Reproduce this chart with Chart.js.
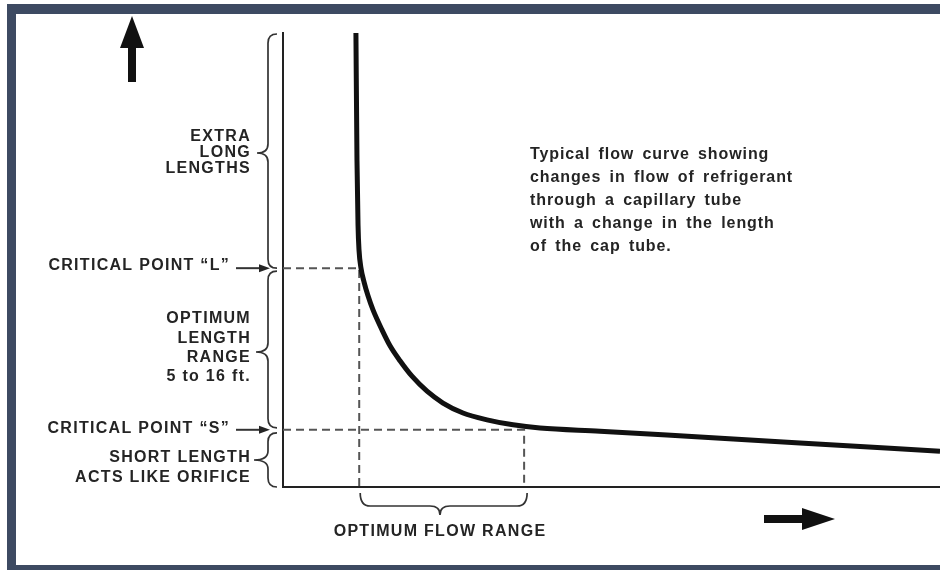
<!DOCTYPE html>
<html>
<head>
<meta charset="utf-8">
<title>Capillary tube flow curve</title>
<script src="https://cdn.jsdelivr.net/npm/chart.js@4.4.1/dist/chart.umd.min.js"></script>
<style>
  html, body { margin: 0; padding: 0; background: #fff; }
  canvas { display: block; }
</style>
</head>
<body>
<canvas id="flowChart" width="940" height="570"></canvas>
<script>
// flow (x) vs tube length (y), arbitrary 0-100 units
const flowValues = [11.1, 11.26, 11.42, 11.57, 11.87, 12.33, 12.94, 13.7, 15.07, 16.29, 17.81, 19.63, 21.92, 24.35, 27.4, 31.05, 35.01, 39.12, 48.25, 63.47, 78.69, 100];
const lengthValues = [100, 72.0, 57.7, 52.2, 48.2, 45.2, 42.1, 39.0, 34.6, 31.1, 27.8, 24.4, 21.1, 18.5, 16.3, 14.8, 13.7, 13.0, 12.3, 11.0, 9.7, 7.9];

// critical points: [flow, length]
const criticalL = [11.6, 48.2];
const criticalS = [36.7, 12.6];

const leftLabels = {
  extra: ['EXTRA', 'LONG', 'LENGTHS'],
  optimum: ['OPTIMUM', 'LENGTH', 'RANGE', '5 to 16 ft.'],
  short: ['SHORT LENGTH', 'ACTS LIKE ORIFICE']
};
const pointLabels = ['CRITICAL POINT \u201CL\u201D', 'CRITICAL POINT \u201CS\u201D'];
const noteLines = [
  'Typical flow curve showing',
  'changes in flow of refrigerant',
  'through a capillary tube',
  'with a change in the length',
  'of the cap tube.'
];
const bottomLabel = 'OPTIMUM FLOW RANGE';

const curvePoints = flowValues.map((v, i) => ({ x: v, y: lengthValues[i] }));
const dropLine = (p) => [{ x: 0, y: p[1] }, { x: p[0], y: p[1] }, { x: p[0], y: 0 }];

const textColor = '#242424';
const labelFont = 'bold 16px "Liberation Sans", Arial, sans-serif';

function brace(ctx, x, y1, y2, ym, tipX, hookX) {
  const r = 9;
  ctx.beginPath();
  ctx.moveTo(hookX, y1);
  ctx.quadraticCurveTo(x, y1, x, y1 + r);
  ctx.lineTo(x, ym - r);
  ctx.quadraticCurveTo(x, ym, tipX, ym);
  ctx.quadraticCurveTo(x, ym, x, ym + r);
  ctx.lineTo(x, y2 - r);
  ctx.quadraticCurveTo(x, y2, hookX, y2);
  ctx.stroke();
}

function hBrace(ctx, y, x1, x2, xm, tipY, hookY) {
  const r = 10;
  ctx.beginPath();
  ctx.moveTo(x1, hookY);
  ctx.quadraticCurveTo(x1, y, x1 + r, y);
  ctx.lineTo(xm - r, y);
  ctx.quadraticCurveTo(xm, y, xm, tipY);
  ctx.quadraticCurveTo(xm, y, xm + r, y);
  ctx.lineTo(x2 - r, y);
  ctx.quadraticCurveTo(x2, y, x2, hookY);
  ctx.stroke();
}

function smallArrow(ctx, x1, x2, y) {
  ctx.beginPath();
  ctx.moveTo(x1, y);
  ctx.lineTo(x2 - 8, y);
  ctx.stroke();
  ctx.beginPath();
  ctx.moveTo(x2, y);
  ctx.lineTo(x2 - 11, y - 4);
  ctx.lineTo(x2 - 11, y + 4);
  ctx.closePath();
  ctx.fill();
}

const framePlugin = {
  id: 'frame',
  beforeDraw(chart) {
    const ctx = chart.ctx;
    ctx.save();
    ctx.fillStyle = '#fff';
    ctx.fillRect(0, 0, chart.width, chart.height);
    ctx.fillStyle = '#3d4a62';
    ctx.fillRect(7, 4, chart.width - 7, 10);
    ctx.fillRect(7, 4, 9, chart.height - 4);
    ctx.fillRect(7, 565, chart.width - 7, 5);
    ctx.restore();
  },
  afterDraw(chart) {
    const ctx = chart.ctx;
    const xs = chart.scales.x, ys = chart.scales.y;
    const top = chart.chartArea.top, bottom = chart.chartArea.bottom;
    const yL = ys.getPixelForValue(criticalL[1]);
    const yS = ys.getPixelForValue(criticalS[1]);
    const xL = xs.getPixelForValue(criticalL[0]);
    const xS = xs.getPixelForValue(criticalS[0]);

    ctx.save();
    ctx.strokeStyle = '#333';
    ctx.fillStyle = textColor;
    ctx.lineWidth = 1.7;

    // braces along the length axis
    brace(ctx, 268, top + 1, yL, 153, 257, 277);
    brace(ctx, 268, yL + 3, yS - 2, 352, 256, 277);
    brace(ctx, 268, yS + 3, bottom, 460, 254, 277);

    // brace under the flow axis
    hBrace(ctx, 506, xL + 1, xS + 3, 440, 515, 493);

    // arrows from critical point labels
    ctx.lineWidth = 2;
    smallArrow(ctx, 236, 270, yL);
    smallArrow(ctx, 236, 270, yS);

    // big axis arrows
    ctx.fillStyle = '#111';
    ctx.fillRect(128, 44, 8, 38);
    ctx.beginPath();
    ctx.moveTo(132, 16); ctx.lineTo(144, 48); ctx.lineTo(120, 48); ctx.closePath();
    ctx.fill();
    ctx.fillRect(764, 515, 40, 8);
    ctx.beginPath();
    ctx.moveTo(835, 519); ctx.lineTo(802, 508); ctx.lineTo(802, 530); ctx.closePath();
    ctx.fill();

    // labels
    ctx.fillStyle = textColor;
    ctx.textBaseline = 'middle';
    ctx.textAlign = 'right';
    ctx.font = labelFont;
    ctx.letterSpacing = '1.3px';
    leftLabels.extra.forEach((t, i) => ctx.fillText(t, 251, 137 + i * 15.6));
    leftLabels.optimum.forEach((t, i) => ctx.fillText(t, 251, 319 + i * 19.3));
    leftLabels.short.forEach((t, i) => ctx.fillText(t, 251, 458 + i * 20));
    ctx.fillText(pointLabels[0], 230, yL - 3);
    ctx.fillText(pointLabels[1], 230, yS - 1);

    ctx.textAlign = 'center';
    ctx.fillText(bottomLabel, 440, 532);

    ctx.textAlign = 'left';
    ctx.letterSpacing = '0.9px';
    ctx.wordSpacing = '3px';
    noteLines.forEach((t, i) => ctx.fillText(t, 530, 155 + i * 22.8));
    ctx.restore();
  }
};

const ctx = document.getElementById('flowChart').getContext('2d');
new Chart(ctx, {
  type: 'line',
  data: {
    datasets: [
      {
        label: 'Flow curve',
        data: curvePoints,
        borderColor: '#111',
        borderWidth: 5,
        pointRadius: 0,
        cubicInterpolationMode: 'monotone',
        fill: false,
        order: 0
      },
      {
        label: 'Critical L',
        data: dropLine(criticalL),
        borderColor: '#555',
        borderWidth: 2,
        borderDash: [8, 5],
        pointRadius: 0,
        tension: 0,
        order: 1
      },
      {
        label: 'Critical S',
        data: dropLine(criticalS),
        borderColor: '#555',
        borderWidth: 2,
        borderDash: [8, 5],
        pointRadius: 0,
        tension: 0,
        order: 1
      }
    ]
  },
  options: {
    responsive: false,
    animation: false,
    layout: { padding: { left: 283, top: 33, right: 0, bottom: 83 } },
    plugins: { legend: { display: false }, tooltip: { enabled: false } },
    scales: {
      x: {
        type: 'linear', min: 0, max: 100,
        ticks: { display: false },
        grid: { display: false, drawTicks: false },
        border: { display: true, color: '#222', width: 2 }
      },
      y: {
        type: 'linear', min: 0, max: 100,
        ticks: { display: false },
        grid: { display: false, drawTicks: false },
        border: { display: true, color: '#222', width: 2 }
      }
    }
  },
  plugins: [framePlugin]
});
</script>
</body>
</html>
